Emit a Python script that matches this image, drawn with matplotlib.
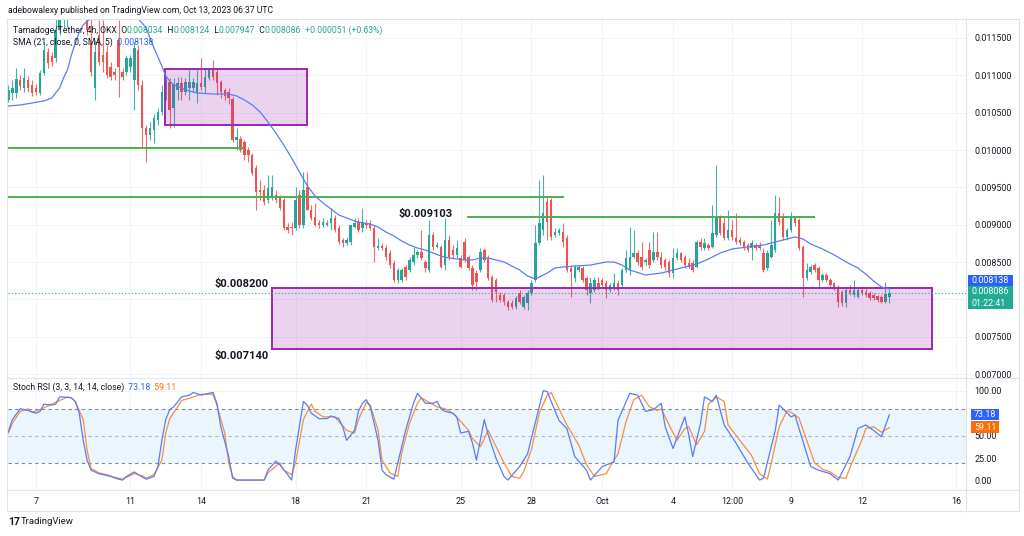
import numpy as np
import matplotlib.pyplot as plt
from matplotlib.patches import Rectangle

plt.rcParams['font.family'] = ['Roboto', 'DejaVu Sans']

# 4h candles of TAMA/USDT (OKX), prices in 1e-6 USDT.
# index 0 = Sep 7 00:00 UTC, first candle = index -7 (Sep 5 20:00)
first_idx = -7
opens = [10670, 10764, 10764, 10938, 10831, 10938, 10871, 10831, 10764, 11032,
         11313, 11259, 11232, 11607, 11741, 11875, 12076, 12277, 12411, 12143,
         12009, 11433, 10831, 11540, 11273, 11313, 11112, 11045, 11473, 11045,
         11045, 11112, 10938, 11339, 10871, 10294, 10201, 10268, 10402, 10509,
         10737, 10911, 10563, 10804, 10898, 10777, 10831, 10831, 10764, 10898,
         10844, 10965, 11072, 11045, 10911, 10804, 10777, 10683, 10134, 10148,
         10108, 10000, 9933, 9760, 9465, 9465, 9331, 9358, 9398, 9358,
         9331, 8969, 8969, 8956, 9398, 8996, 9505, 9197, 9103, 9023,
         8996, 8996, 9023, 9090, 8956, 8795, 8755, 8769, 8969, 9036,
         8956, 9023, 9023, 8956, 8688, 8715, 8688, 8621, 8487, 8259,
         8259, 8434, 8393, 8501, 8595, 8635, 8501, 8393, 8862, 8702,
         8702, 8460, 8795, 8661, 8595, 8554, 8769, 8568, 8420, 8353,
         8393, 8661, 8554, 8300, 8259, 8059, 8059, 7965, 7951, 7898,
         8086, 7898, 7951, 8086, 8259, 8755, 8929, 9304, 9331, 8862,
         8889, 8902, 8822, 8420, 8286, 8393, 8420, 8286, 8086, 8126,
         8219, 8259, 8219, 8126, 8166, 8219, 8193, 8393, 8393, 8568,
         8621, 8568, 8501, 8661, 8528, 8635, 8568, 8528, 8501, 8353,
         8554, 8621, 8568, 8487, 8487, 8434, 8769, 8688, 8728, 8702,
         8862, 9103, 9023, 8822, 8929, 8822, 8795, 8769, 8728, 8688,
         8728, 8728, 8621, 8420, 8568, 8661, 9157, 9090, 8836, 8929,
         9090, 9063, 8702, 8286, 8367, 8460, 8420, 8259, 8327, 8259,
         8219, 8166, 8099, 7951, 8126, 8059, 8032, 8126, 8099, 8086,
         8059, 8045, 8032, 7965, 8034]
highs = [10871, 10938, 11098, 11005, 11098, 10991, 10938, 10884, 11072, 11447,
         11366, 11313, 11808, 11942, 12143, 12277, 12545, 12679, 12612, 12344,
         12210, 11875, 11473, 11741, 11741, 11406, 11179, 11098, 11741, 11098,
         11273, 11273, 11447, 11406, 10938, 10335, 10375, 10483, 10563, 10871,
         10991, 10965, 10965, 10978, 10978, 10965, 11072, 10965, 11072, 11232,
         11098, 11098, 11206, 11098, 10938, 10831, 10831, 10710, 10294, 10188,
         10134, 10041, 9960, 9800, 9599, 9532, 9666, 9666, 9465, 9398,
         9358, 9023, 9036, 9505, 9465, 9706, 9706, 9264, 9291, 9063,
         9090, 9063, 9224, 9130, 8996, 8822, 8836, 8996, 9090, 9090,
         9224, 9063, 9063, 8996, 8822, 8755, 8728, 8661, 8528, 8420,
         8420, 8460, 8568, 8702, 8661, 8929, 8528, 9063, 8902, 8769,
         8728, 9090, 8862, 8728, 8795, 8595, 8822, 8595, 8460, 8393,
         8688, 8688, 8595, 8327, 8286, 8099, 8086, 7992, 7992, 8045,
         8126, 8059, 8126, 8259, 8996, 9599, 9666, 9371, 9358, 8956,
         8956, 9023, 8862, 8460, 8460, 8460, 8447, 8313, 8300, 8300,
         8300, 8286, 8259, 8219, 8353, 8259, 8420, 8661, 8969, 8929,
         8661, 8769, 8554, 8769, 8902, 8902, 8635, 8554, 8528, 8688,
         8688, 8635, 8595, 8554, 8528, 8795, 8822, 8822, 8755, 9264,
         9800, 9130, 9103, 9197, 9063, 9157, 8836, 8795, 8755, 8795,
         8755, 8769, 8688, 8661, 9063, 9398, 9371, 9157, 8956, 9170,
         9103, 9090, 8728, 8487, 8460, 8487, 8447, 8353, 8353, 8286,
         8233, 8193, 8126, 8153, 8193, 8259, 8153, 8153, 8166, 8113,
         8086, 8059, 8059, 8233, 8124]
lows = [10643, 10670, 10697, 10804, 10777, 10777, 10724, 10737, 10737, 11005,
        11098, 11125, 11179, 11540, 11634, 11647, 11942, 12076, 12009, 11875,
        11540, 10991, 10670, 11139, 11045, 10965, 10938, 10938, 10710, 10938,
        11005, 11045, 10536, 10804, 10041, 9840, 10134, 10094, 10335, 10469,
        10670, 10294, 10308, 10670, 10670, 10737, 10670, 10777, 10630, 10804,
        10764, 10938, 10938, 10737, 10697, 10670, 10616, 10108, 10000, 9974,
        9866, 9840, 9666, 9197, 9331, 9264, 9291, 9331, 9291, 9197,
        8929, 8889, 8862, 8929, 8956, 8956, 9197, 9063, 8983, 8956,
        8969, 8983, 8929, 8902, 8742, 8702, 8728, 8728, 8956, 8902,
        8902, 8956, 8929, 8501, 8661, 8661, 8528, 8420, 8233, 8219,
        8233, 8259, 8367, 8460, 8554, 8528, 8367, 8367, 8661, 8688,
        8420, 8393, 8528, 8554, 8554, 8420, 8501, 8393, 8126, 8126,
        8367, 8501, 8259, 7965, 7965, 7965, 7924, 7858, 7871, 7871,
        7938, 7871, 7858, 8059, 8233, 8728, 8862, 8795, 8795, 8836,
        8862, 8702, 8367, 8032, 8233, 8367, 8233, 8059, 7951, 8099,
        8126, 8166, 8019, 8099, 8126, 8059, 8153, 8367, 8327, 8554,
        8460, 8393, 8460, 8420, 8501, 8528, 8420, 8393, 8300, 8286,
        8528, 8501, 8420, 8420, 8367, 8420, 8661, 8661, 8661, 8688,
        8836, 8862, 8795, 8795, 8795, 8742, 8728, 8661, 8635, 8528,
        8661, 8661, 8367, 8393, 8554, 8635, 8996, 8795, 8795, 8902,
        8983, 8661, 8032, 8259, 8340, 8367, 8166, 8233, 8233, 8166,
        8126, 7898, 7911, 7898, 8059, 8032, 8019, 8059, 8032, 7992,
        7992, 7965, 7951, 7951, 7947]
closes = [10804, 10831, 10951, 10857, 10965, 10831, 10764, 10777, 11032, 11339,
          11165, 11179, 11607, 11768, 11942, 12076, 12277, 12411, 12143, 12009,
          11607, 11045, 11313, 11179, 11179, 11005, 10978, 11005, 11112, 10978,
          11232, 11232, 11366, 10871, 10294, 10201, 10294, 10429, 10509, 10777,
          10938, 10536, 10884, 10898, 10777, 10911, 10911, 10911, 10898, 10844,
          10978, 11072, 10978, 10898, 10777, 10724, 10697, 10134, 10175, 10000,
          9933, 9933, 9693, 9438, 9438, 9304, 9492, 9505, 9331, 9224,
          8956, 8929, 8956, 9331, 8996, 9465, 9197, 9090, 8996, 8996,
          9036, 9023, 9090, 8929, 8769, 8755, 8795, 8996, 9023, 8929,
          9036, 8996, 8956, 8702, 8715, 8688, 8568, 8460, 8259, 8393,
          8393, 8300, 8528, 8595, 8635, 8554, 8420, 8862, 8702, 8728,
          8434, 8795, 8568, 8595, 8688, 8434, 8528, 8420, 8193, 8233,
          8635, 8528, 8286, 7992, 8099, 7992, 7965, 7898, 7898, 8019,
          7965, 8032, 8086, 8219, 8755, 9023, 9157, 9036, 8836, 8902,
          8929, 8769, 8393, 8367, 8434, 8434, 8259, 8126, 8219, 8259,
          8166, 8193, 8126, 8193, 8219, 8126, 8393, 8554, 8568, 8621,
          8501, 8434, 8528, 8460, 8635, 8568, 8460, 8434, 8353, 8554,
          8621, 8528, 8460, 8434, 8393, 8769, 8702, 8755, 8688, 8889,
          9103, 8889, 8822, 8929, 8836, 8769, 8755, 8702, 8661, 8755,
          8688, 8688, 8393, 8621, 8728, 9157, 9036, 8836, 8929, 9103,
          9023, 8688, 8286, 8393, 8434, 8393, 8259, 8327, 8259, 8193,
          8166, 7965, 7951, 8126, 8086, 8126, 8126, 8086, 8059, 8019,
          8019, 7992, 7965, 8072, 8086]

# SMA(21) (candle index, price in 1e-6)
sma_idx = [-7, -4, -1, 2, 4, 6, 7, 8, 9, 10, 11, 12, 13, 14, 16, 18, 20, 22, 24,
           26, 27, 28, 29, 30, 31, 32, 33, 34, 35, 37, 39, 41, 43, 45, 47, 49,
           51, 53, 55, 57, 59, 61, 63, 65, 67, 69, 71, 73, 75, 77, 79, 81, 83,
           85, 87, 89, 91, 93, 95, 97, 99, 101, 103, 105, 107, 109, 111, 113,
           115, 117, 119, 121, 123, 125, 127, 128, 130, 132, 134, 137, 141, 145,
           147, 149, 151, 155, 157, 159, 162, 165, 168, 171, 174, 177, 181, 185,
           188, 191, 193, 195, 197, 200, 203, 206, 209, 211, 213, 215, 217]
sma_val = [10590, 10603, 10630, 10657, 10697, 10831, 10965, 11072, 11273, 11433,
           11580, 11674, 11728, 11755, 11850, 11920, 11940, 11900, 11820,
           11755, 11701, 11634, 11500, 11366, 11246, 11125, 10991, 10924, 10871,
           10831, 10790, 10764, 10757, 10750, 10750, 10750, 10724, 10670, 10603,
           10509, 10375, 10228, 10067, 9893, 9706, 9519, 9384, 9291, 9211, 9130,
           9090, 9050, 9023, 9009, 8969, 8902, 8849, 8782, 8728, 8688, 8661,
           8621, 8581, 8554, 8541, 8528, 8528, 8554, 8554, 8528, 8501, 8447,
           8393, 8313, 8273, 8300, 8353, 8420, 8434, 8447, 8460, 8501, 8501,
           8460, 8393, 8327, 8340, 8353, 8393, 8434, 8474, 8541, 8621, 8675,
           8702, 8728, 8769, 8809, 8836, 8809, 8742, 8675, 8595, 8501, 8420,
           8340, 8246, 8166, 8138]

k_idx = [-7, -6, -4, -3, -2, 0, 1, 2, 4, 5, 6, 7, 9, 10, 11, 12, 13, 14, 16, 17,
         19, 21, 22, 23, 25, 26, 28, 30, 31, 32, 33, 34, 35, 37, 39, 40, 42, 43,
         45, 46, 47, 49, 50, 51, 58, 59, 61, 62, 64, 65, 66, 68, 69, 70, 72, 74,
         75, 77, 78, 79, 81, 82, 83, 84, 85, 87, 88, 89, 91, 92, 94, 96, 97, 98,
         99, 101, 102, 103, 104, 106, 107, 108, 110, 111, 112, 114, 115, 117,
         119, 120, 123, 125, 129, 130, 133, 135, 137, 140, 141, 144, 147, 148,
         151, 153, 155, 157, 159, 160, 162, 165, 166, 167, 169, 170, 172, 173,
         175, 178, 181, 184, 185, 188, 189, 192, 193, 197, 199, 202, 204, 207,
         209, 211, 213, 215, 217]
k_val = [55, 68, 80, 79, 78, 75, 77, 85, 84, 85, 93, 93, 92, 88, 75, 45, 23, 12, 8, 7,
         5, 2, 1, 5, 10, 7, 2, 5, 16, 45, 68, 79, 82, 93, 95, 98, 95, 96,
         98, 86, 60, 27, 3, 1, 1, 12, 22, 18, 7, 1, 34, 88, 84, 75, 69, 69,
         72, 69, 60, 45, 56, 77, 86, 90, 82, 45, 12, 7, 2, 20, 56, 86, 97, 92,
         86, 86, 88, 80, 77, 75, 71, 53, 55, 42, 23, 68, 51, 25,
         5, 1, 16, 30, 100, 99, 67, 58, 27, 12, 1, 16, 21, 67,
         97, 95, 77, 79, 86, 60, 36, 71, 51, 27, 64, 93, 88, 95,
         62, 42, 20, 1, 3, 56, 84, 71, 73, 16, 12, 8, 1, 27,
         58, 62, 56, 49, 73.18]
d_idx = [-7, -6, -4, -2, -1, 1, 3, 4, 6, 8, 9, 10, 12, 13, 14, 16, 18, 20, 22, 23,
         25, 27, 28, 30, 32, 33, 34, 36, 37, 40, 42, 43, 45, 46, 48, 49, 50, 51,
         58, 59, 62, 63, 65, 66, 68, 70, 71, 73, 76, 77, 79, 81, 82, 84, 85, 87,
         88, 90, 92, 93, 95, 97, 98, 100, 102, 104, 106, 108, 110, 111, 113, 115,
         117, 119, 121, 123, 124, 126, 128, 130, 131, 133, 135, 138, 140, 142,
         145, 146, 148, 150, 152, 154, 156, 158, 159, 161, 163, 165, 166, 168,
         170, 171, 173, 175, 176, 179, 182, 184, 186, 187, 189, 191, 192, 194,
         196, 198, 200, 202, 204, 206, 207, 210, 211, 213, 215, 217]
d_val = [53, 64, 77, 80, 76, 79, 83, 85, 89, 93, 92, 88, 68, 34, 14, 9, 7, 4, 2, 4,
         8, 6, 3, 7, 23, 53, 69, 82, 89, 93, 96, 96, 96, 84, 53, 20, 5, 1,
         1, 9, 20, 12, 7, 20, 68, 85, 77, 71, 71, 66, 56, 53, 68, 87, 84, 56,
         23, 9, 5, 31, 64, 86, 92, 87, 82, 80, 75, 66, 56, 47, 38, 56,
         38, 20, 5, 3, 10, 35, 75, 95, 98, 80, 62, 40, 18, 5,
         8, 16, 30, 65, 90, 95, 82, 78, 80, 62, 45, 58, 60, 40,
         55, 85, 93, 88, 62, 45, 28, 8, 2, 20, 60, 78, 76, 70,
         45, 20, 13, 10, 4, 3, 15, 45, 58, 60, 54, 59.11]

# drawn levels and zones (prices in 1e-6)
support_lines = [(-7.2, 52.6, 10027), (-7.2, 134.0, 9371), (109.8, 197.8, 9103)]
zones = [(32.9, 68.8, 10331, 11085), (60.0, 227.8, 7332, 8148)]
last_close = 8086
last_sma = 8138
tick_pos = [0, 24, 42, 66, 84, 108, 126, 144, 162, 177, 192, 210, 234]
tick_lab = ['7', '11', '14', '18', '21', '25', '28', 'Oct', '4', '12:00', '9', '12', '16']

UP, DN = '#26a69a', '#ef5350'
BLUE, ORANGE = '#2962ff', '#ff6d00'
TXT, GRID, FRAME = '#131722', '#f0f3fa', '#e0e3eb'
W, H = 1024, 536
fig = plt.figure(figsize=(W / 100, H / 100), dpi=100)


def px_axes(x0, y0, x1, y1):
    return fig.add_axes([x0 / W, 1 - y1 / H, (x1 - x0) / W, (y1 - y0) / H])


ax = px_axes(8, 20, 966, 377)
ax_rsi = px_axes(8, 378, 966, 490)
xlim = (-7.12, 236.5)

# ---- price pane ----
idx = np.arange(first_idx, first_idx + len(closes))
o, hi, lo, c = [np.array(v) * 1e-6 for v in (opens, highs, lows, closes)]
col = np.where(c >= o, UP, DN)
ax.vlines(idx, lo, hi, colors=col, lw=0.8, alpha=0.85, zorder=2)
ax.bar(idx, np.maximum(np.abs(c - o), 1.2e-5), bottom=np.minimum(o, c), width=0.62,
       color=col, linewidth=0, zorder=2)
ax.plot(sma_idx, np.array(sma_val) * 1e-6, color='#5b7cf5', lw=0.9, zorder=4)

for x0, x1, y0, y1 in zones:
    ax.add_patch(Rectangle((x0, y0 * 1e-6), x1 - x0, (y1 - y0) * 1e-6,
                           facecolor=(0.612, 0.153, 0.690, 0.2), edgecolor='#9c27b0',
                           lw=1.4, zorder=3))
for x0, x1, y in support_lines:
    ax.plot([x0, x1], [y * 1e-6] * 2, color='#4caf50', lw=1.4, zorder=3)
ax.axhline(last_close * 1e-6, color=UP, lw=0.8, ls=(0, (1, 2)), zorder=3)

lab_kw = dict(fontsize=8.0, weight='bold', color=TXT, va='center', zorder=5)
ax.text(45.5, 0.008206, '$0.008200', **lab_kw)
ax.text(45.5, 0.007242, '$0.007140', **lab_kw)
ax.text(92.3, 0.009148, '$0.009103', **lab_kw)

ax.set_xlim(*xlim)
ax.set_ylim(0.006961, 0.011741)
price_ticks = np.arange(0.007, 0.01151, 0.0005)
ax.set_yticks(price_ticks)
ax.set_yticklabels(['' if abs(t - 0.008) < 1e-9 else f'{t:.6f}' for t in price_ticks])
ax.yaxis.tick_right()
ax.tick_params(axis='y', length=0, pad=6, labelsize=6.4, labelcolor=TXT)
ax.set_xticks(tick_pos)
ax.tick_params(axis='x', length=0, labelbottom=False)
ax.grid(True, color=GRID, lw=0.8, zorder=0)
for s in ax.spines.values():
    s.set_visible(False)

# ---- stoch rsi pane ----
ax_rsi.axhspan(20, 80, color='#2196f3', alpha=0.09, lw=0, zorder=1)
for lvl, a in [(80, 0.9), (50, 0.5), (20, 0.9)]:
    ax_rsi.axhline(lvl, color='#787b86', lw=0.8, ls=(0, (3, 3)), alpha=a, zorder=2)
ax_rsi.plot(k_idx, k_val, color='#5b7cf5', lw=0.9, zorder=4)
ax_rsi.plot(d_idx, d_val, color='#f7903c', lw=0.9, zorder=3)
ax_rsi.set_xlim(*xlim)
ax_rsi.set_ylim(-10, 114)
ax_rsi.set_yticks([0, 25, 50, 100])
ax_rsi.set_yticklabels(['0.00', '25.00', '50.00', '100.00'])
ax_rsi.yaxis.tick_right()
ax_rsi.tick_params(axis='y', length=0, pad=6, labelsize=6.4, labelcolor=TXT)
ax_rsi.set_xticks(tick_pos)
ax_rsi.set_xticklabels(tick_lab)
ax_rsi.tick_params(axis='x', length=0, pad=5, labelsize=6.4, labelcolor=TXT)
ax_rsi.grid(True, axis='x', color=GRID, lw=0.8, zorder=0)
ax_rsi.axhline(100, color=GRID, lw=0.8, zorder=0)
for s in ax_rsi.spines.values():
    s.set_visible(False)


# ---- frame and separators ----
def fline(x0, y0, x1, y1):
    fig.add_artist(plt.Line2D([x0 / W, x1 / W], [1 - y0 / H, 1 - y1 / H], color=FRAME, lw=0.8))


fline(7, 19, 1019, 19)
fline(7, 19, 7, 511)
fline(1019, 19, 1019, 511)
fline(7, 511, 1019, 511)
fline(7, 377.5, 1019, 377.5)
fline(7, 490, 1019, 490)
fline(966, 19, 966, 511)


def badge(x0, y0, x1, y1, color, lines):
    fig.add_artist(Rectangle((x0 / W, 1 - y1 / H), (x1 - x0) / W, (y1 - y0) / H,
                             transform=fig.transFigure, color=color, lw=0))
    step = (y1 - y0) / len(lines)
    for k, s in enumerate(lines):
        fig.text((x0 + 3) / W, 1 - (y0 + step * (k + 0.5)) / H, s, color='white',
                 fontsize=6.4, va='center')


badge(968, 275, 1013, 286, BLUE, [f'{last_sma * 1e-6:.6f}'])
badge(968, 286, 1013, 309, '#22ab94', [f'{last_close * 1e-6:.6f}', '01:22:41'])
badge(971, 409, 999, 420, BLUE, [f'{k_val[-1]:.2f}'])
badge(971, 421, 999, 433, ORANGE, [f'{d_val[-1]:.2f}'])

# ---- texts ----
renderer = fig.canvas.get_renderer()


def row(x, y, parts, size=6.3):
    for s, color in parts:
        t = fig.text(x / W, 1 - y / H, s, color=color, fontsize=size, va='center', ha='left')
        x += t.get_window_extent(renderer).width


row(8, 10.5, [('adebowalexy published on TradingView.com, Oct 13, 2023 06:37 UTC', TXT)], size=6.2)
row(13, 30.5, [('Tamadoge/Tether, 4h, OKX', TXT), ('  O', TXT), ('0.008034', UP),
               ('  H', TXT), ('0.008124', UP), ('  L', TXT), ('0.007947', UP),
               ('  C', TXT), ('0.008086', UP), ('  +0.000051 (+0.63%)', UP)], size=6.25)
row(13, 42.5, [('SMA (21, close, 0, SMA, 5)', TXT), ('  0.008138', BLUE)], size=6.25)
row(13, 387.5, [('Stoch RSI (3, 3, 14, 14, close)', TXT), ('  73.18', BLUE), ('  59.11', ORANGE)])
row(8, 522, [('17', TXT)], size=7.5)
fig.texts[-1].set_weight('bold')
row(21, 522, [('TradingView', TXT)], size=6.8)

fig.savefig('out.png', dpi=100)
